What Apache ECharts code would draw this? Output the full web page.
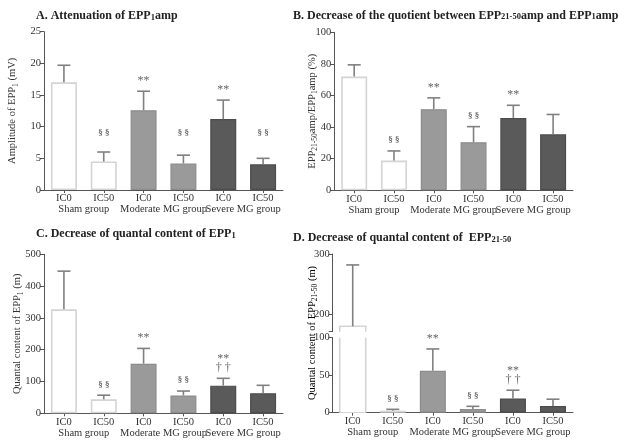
<!DOCTYPE html>
<html><head><meta charset="utf-8">
<script src="https://cdn.jsdelivr.net/npm/echarts@6/dist/echarts.min.js"></script>
<style>html,body{margin:0;padding:0;background:#fff}#c{width:619px;height:441px}</style>
</head><body><div id="c"></div>
<script>
// ---- data ----
const conditions = ['IC0', 'IC50', 'IC0', 'IC50', 'IC0', 'IC50'];
const groups = ['Sham group', 'Moderate MG group', 'Severe MG group'];

const ampMean = [17.0, 4.5, 12.6, 4.2, 11.2, 4.05];
const ampErr  = [2.7, 1.5, 3.0, 1.3, 3.0, 0.95];
const ampMarks = ['', '§ §', '**', '§ §', '**', '§ §'];

const quotMean = [72.0, 18.8, 51.3, 30.4, 45.8, 35.4];
const quotErr  = [7.4, 6.1, 7.2, 9.9, 8.0, 12.6];
const quotMarks = ['', '§ §', '**', '§ §', '**', ''];

const qc1Mean = [327, 44, 156, 56, 87, 63];
const qc1Err  = [120, 13, 48, 14, 23, 25];
const qc1Marks = ['', '§ §', '**', '§ §', '**\n† †', ''];

const qc2Mean = [181, 2.7, 56, 5, 19, 9];
const qc2Err  = [101, 1.8, 29, 3.5, 11, 9];
const qc2Marks = ['', '§ §', '**', '§ §', '**\n† †', ''];

const ampTicks = [0, 5, 10, 15, 20, 25];
const quotTicks = [0, 20, 40, 60, 80, 100];
const qc1Ticks = [0, 100, 200, 300, 400, 500];
const qc2LowTicks = [0, 50, 100];
const qc2HighTicks = [200, 300];
const qc2BreakLow = 100;   // top of lower segment
const qc2BreakHigh = 172;  // bottom of upper segment

// ---- styles ----
const FONT = 'Liberation Serif';
const groupStyles = [
  { color: '#ffffff', borderColor: '#d4d4d4', borderWidth: 1.6 },
  { color: '#9a9a9a', borderColor: '#8c8c8c', borderWidth: 1.2 },
  { color: '#5a5a5a', borderColor: '#4c4c4c', borderWidth: 1.2 }
];
const errColor = '#808080';
const axisColor = '#555';
const BAR_W = 26;

const chart = echarts.init(document.getElementById('c'), null, { renderer: 'canvas' });

const grids = [
  { left: 44, top: 31.7, width: 239, height: 158.3 },   // A
  { left: 334.3, top: 32.3, width: 238.7, height: 158 }, // B
  { left: 44, top: 254.3, width: 239, height: 159 },     // C
  { left: 332.7, top: 337.7, width: 240.3, height: 75 }, // D lower
  { left: 332.7, top: 254, width: 240.3, height: 77.7 }  // D upper
];

const rich = {
  m: { fontFamily: FONT, fontSize: 10.5, color: '#333', verticalAlign: 'bottom' },
  s: { fontFamily: FONT, fontSize: 7.5, color: '#333', verticalAlign: 'bottom', padding: [0, 0, -2, 0] }
};
const titleRich = {
  t: { fontFamily: FONT, fontSize: 12, fontWeight: 'bold', color: '#222', verticalAlign: 'bottom', lineHeight: 16 },
  s: { fontFamily: FONT, fontSize: 8.5, fontWeight: 'bold', color: '#222', verticalAlign: 'bottom', lineHeight: 12 }
};

const xAxes = [], yAxes = [], series = [];

function addPanel(gi, means, errs, marks, ticks, opts) {
  opts = opts || {};
  const xi = xAxes.length;
  xAxes.push({
    type: 'category', gridIndex: gi, data: conditions,
    show: !opts.hideX,
    axisLine: { show: true, lineStyle: { color: axisColor, width: 1 } },
    axisTick: { show: true, alignWithLabel: true, length: 3, lineStyle: { color: axisColor } },
    axisLabel: { fontFamily: FONT, fontSize: 10.5, color: '#333', margin: 3, interval: 0 }
  });
  xAxes.push({
    type: 'category', gridIndex: gi, data: groups, position: 'bottom', offset: 11,
    show: !opts.hideX,
    axisLine: { show: false }, axisTick: { show: false },
    axisLabel: { fontFamily: FONT, fontSize: 10.5, color: '#333', margin: 3, interval: 0 }
  });
  const yi = yAxes.length;
  const y = {
    type: 'value', gridIndex: gi,
    min: opts.min != null ? opts.min : ticks[0],
    max: opts.max != null ? opts.max : ticks[ticks.length - 1],
    axisLine: { show: true, lineStyle: { color: axisColor, width: 1 } },
    axisTick: { show: true, length: 4, lineStyle: { color: axisColor }, customValues: opts.tickValues || ticks },
    axisLabel: { fontFamily: FONT, fontSize: 10.5, color: '#333', margin: 3, customValues: ticks },
    splitLine: { show: false }
  };
  if (opts.name) {
    y.name = opts.name;
    y.nameLocation = 'middle';
    y.nameRotate = 90;
    y.nameGap = opts.nameGap;
    y.nameMoveOverlap = false;
    y.nameTextStyle = { rich: rich };
  }
  yAxes.push(y);
  const barInclude = opts.barInclude || (() => true);
  const errInclude = opts.errInclude || (() => true);
  const broken = opts.broken || (() => false);
  series.push({
    type: 'bar', xAxisIndex: xi, yAxisIndex: yi, barWidth: BAR_W, clip: true,
    data: means.map((v, i) => {
      if (!barInclude(i)) return '-';
      const st = Object.assign({}, groupStyles[Math.floor(i / 2)]);
      if (broken(i)) st.borderWidth = 0;
      return { value: v, itemStyle: st };
    }),
    z: 2
  });
  // open outline for bars cut by the axis break
  const brokenData = [];
  means.forEach((v, i) => { if (barInclude(i) && broken(i)) brokenData.push([i, v, i]); });
  if (brokenData.length) {
    series.push({
      type: 'custom', xAxisIndex: xi, yAxisIndex: yi, z: 3, data: brokenData,
      renderItem: function (params, api) {
        const idx = api.value(0);
        const i = api.value(2);
        const st = groupStyles[Math.floor(i / 2)];
        const cs = params.coordSys;
        const pTop = api.coord([idx, api.value(1)]);
        const base = api.coord([idx, 0]);
        const gTop = cs.y, gBot = cs.y + cs.height;
        const yT = Math.max(pTop[1], gTop), yB = Math.min(base[1], gBot);
        const xl = pTop[0] - BAR_W / 2, xr = pTop[0] + BAR_W / 2;
        const pts = [[xl, yB], [xl, yT]];
        const topInside = pTop[1] >= gTop;
        const style = { stroke: st.borderColor, lineWidth: 1.6, fill: null };
        if (topInside) {
          return { type: 'polyline', shape: { points: [[xl, yB], [xl, yT], [xr, yT], [xr, yB]] }, style: style };
        }
        return { type: 'group', children: [
          { type: 'line', shape: { x1: xl, y1: yB, x2: xl, y2: yT }, style: style },
          { type: 'line', shape: { x1: xr, y1: yB, x2: xr, y2: yT }, style: style }
        ] };
      }
    });
  }
  const errData = [];
  means.forEach((v, i) => { if (errInclude(i)) errData.push([i, v, v + errs[i], i]); });
  const alignTop = opts.alignSection ? Math.max(...means.map((v, i) => marks[i].indexOf('§') >= 0 ? v + errs[i] : -Infinity)) : null;
  series.push({
    type: 'custom', xAxisIndex: xi, yAxisIndex: yi, z: 5,
    data: errData,
    renderItem: function (params, api) {
      const idx = api.value(0);
      const p0 = api.coord([idx, api.value(1)]);
      const p1 = api.coord([idx, api.value(2)]);
      const children = [
        { type: 'line', shape: { x1: p0[0], y1: p0[1], x2: p1[0], y2: p1[1] }, style: { stroke: errColor, lineWidth: 1.6 } },
        { type: 'line', shape: { x1: p1[0] - 6.5, y1: p1[1], x2: p1[0] + 6.5, y2: p1[1] }, style: { stroke: errColor, lineWidth: 1.6 } }
      ];
      const i = api.value(3);
      const mk = marks[i];
      if (mk) {
        let yy = p1[1];
        let gap = 6;
        if (alignTop != null && mk.indexOf('§') >= 0) { yy = api.coord([idx, alignTop])[1]; gap = 14; }
        const isSec = mk.indexOf('§') >= 0;
        children.push({
          type: 'text',
          style: {
            text: mk, x: p1[0], y: yy - gap, align: 'center', verticalAlign: 'bottom',
            fontFamily: FONT, fontSize: isSec ? 9 : 12, fontWeight: isSec ? 'bold' : 'normal',
            fill: '#666', lineHeight: isSec ? 10 : 9
          }
        });
      }
      return { type: 'group', children: children };
    }
  });
}

addPanel(0, ampMean, ampErr, ampMarks, ampTicks, { name: '{m|Amplitude of EPP}{s|1}{m| (mV)}', nameGap: 26, alignSection: true });
addPanel(1, quotMean, quotErr, quotMarks, quotTicks, { name: '{m|EPP}{s|21-50}{m|amp/EPP}{s|1}{m|amp (%)}', nameGap: 17 });
addPanel(2, qc1Mean, qc1Err, qc1Marks, qc1Ticks, { name: '{m|Quantal content of EPP}{s|1}{m| (m)}', nameGap: 21 });
addPanel(3, qc2Mean, qc2Err, qc2Marks, qc2LowTicks, {
  max: qc2BreakLow,
  errInclude: i => qc2Mean[i] + qc2Err[i] <= qc2BreakLow,
  broken: i => qc2Mean[i] > qc2BreakLow
});
addPanel(4, qc2Mean, qc2Err, qc2Marks, qc2HighTicks, {
  min: qc2BreakHigh, max: 300, tickValues: [qc2BreakHigh, 200, 300], hideX: true,
  barInclude: i => qc2Mean[i] >= qc2BreakHigh, errInclude: i => qc2Mean[i] >= qc2BreakHigh,
  broken: i => true
});

const option = {
  animation: false,
  backgroundColor: '#fff',
  title: [
    { text: '{t|A. Attenuation of EPP}{s|1}{t|amp}', left: 36, top: 6, padding: 0, textStyle: { rich: titleRich } },
    { text: '{t|B. Decrease of the quotient between EPP}{s|21-50}{t|amp and EPP}{s|1}{t|amp}', left: 293, top: 5.5, padding: 0, textStyle: { rich: titleRich } },
    { text: '{t|C. Decrease of quantal content of EPP}{s|1}', left: 36, top: 224, padding: 0, textStyle: { rich: titleRich } },
    { text: '{t|D. Decrease of quantal content of  EPP}{s|21-50}', left: 293, top: 228, padding: 0, textStyle: { rich: titleRich } }
  ],
  grid: grids,
  xAxis: xAxes,
  yAxis: yAxes,
  series: series,
  graphic: [
    {
      type: 'text', x: 312, y: 333, rotation: Math.PI / 2,
      style: { text: '{m|Quantal content of EPP}{s|21-50}{m| (m)}', rich: rich, align: 'center', verticalAlign: 'middle' }
    }
  ]
};
chart.setOption(option);
</script>
</body></html>
